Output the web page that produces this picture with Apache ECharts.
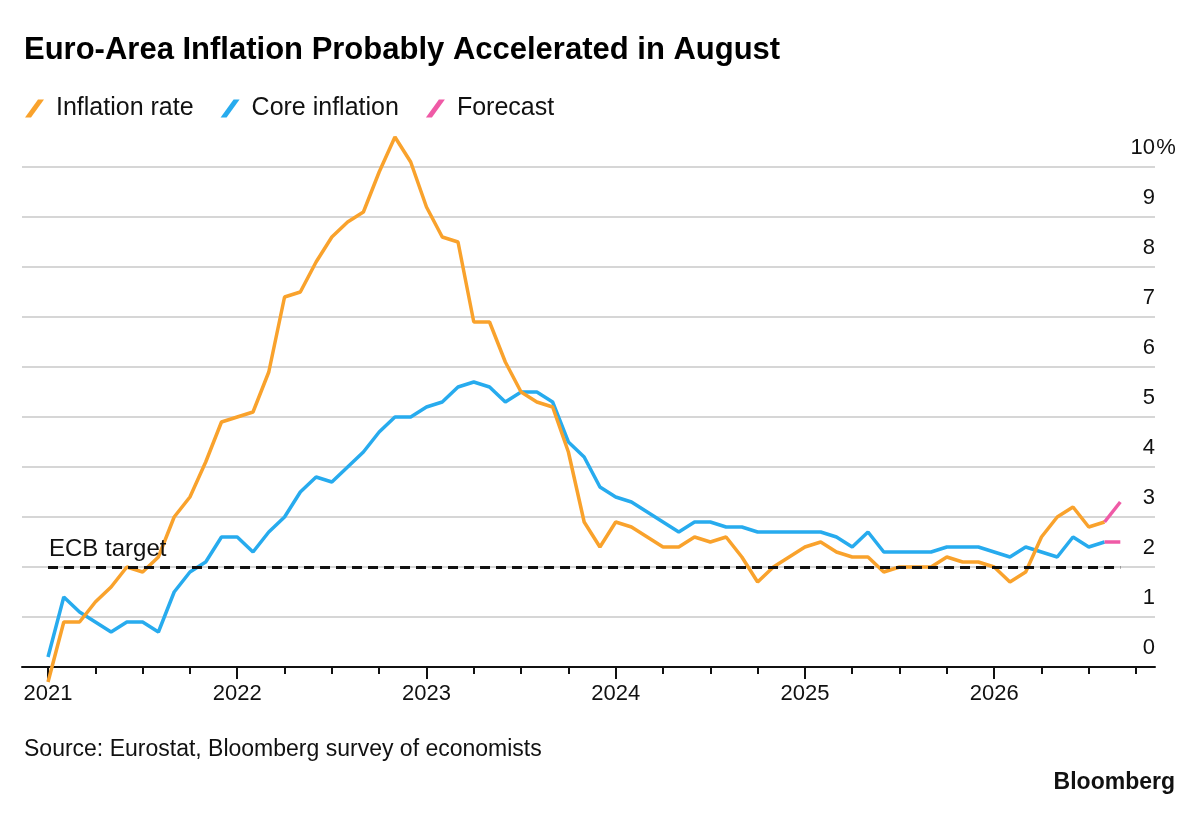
<!DOCTYPE html>
<html>
<head>
<meta charset="utf-8" />
<title>Euro-Area Inflation</title>
<script src="https://cdn.jsdelivr.net/npm/echarts@6/dist/echarts.min.js"></script>
<style>
  html, body { margin: 0; padding: 0; background: #fff; }
  #main { width: 1200px; height: 818px; }
</style>
</head>
<body>
<div id="main"></div>
<script type="text/javascript">
// monthly readings, index 0 = the "2021" tick
var inflation = [
  -0.3, 0.9, 0.9, 1.3, 1.6, 2.0, 1.9, 2.2, 3.0, 3.4, 4.1, 4.9,
  5.0, 5.1, 5.9, 7.4, 7.5, 8.1, 8.6, 8.9, 9.1, 9.9, 10.6, 10.1,
  9.2, 8.6, 8.5, 6.9, 6.9, 6.1, 5.5, 5.3, 5.2, 4.3, 2.9, 2.4,
  2.9, 2.8, 2.6, 2.4, 2.4, 2.6, 2.5, 2.6, 2.2, 1.7, 2.0, 2.2,
  2.4, 2.5, 2.3, 2.2, 2.2, 1.9, 2.0, 2.0, 2.0, 2.2, 2.1, 2.1,
  2.0, 1.7, 1.9, 2.6, 3.0, 3.2, 2.8, 2.9
];
var core = [
  0.2, 1.4, 1.1, 0.9, 0.7, 0.9, 0.9, 0.7, 1.5, 1.9, 2.1, 2.6,
  2.6, 2.3, 2.7, 3.0, 3.5, 3.8, 3.7, 4.0, 4.3, 4.7, 5.0, 5.0,
  5.2, 5.3, 5.6, 5.7, 5.6, 5.3, 5.5, 5.5, 5.3, 4.5, 4.2, 3.6,
  3.4, 3.3, 3.1, 2.9, 2.7, 2.9, 2.9, 2.8, 2.8, 2.7, 2.7, 2.7,
  2.7, 2.7, 2.6, 2.4, 2.7, 2.3, 2.3, 2.3, 2.3, 2.4, 2.4, 2.4,
  2.3, 2.2, 2.4, 2.3, 2.2, 2.6, 2.4, 2.5
];
// forecast: last actual month -> next month
var forecastMonths = [67, 68];
var inflationForecast = [2.9, 3.3];
var coreForecast = [2.5, 2.5];
var ecbTarget = 2;
var yearLabels = ['2021', '2022', '2023', '2024', '2025', '2026'];

var ORANGE = '#F9A22C', BLUE = '#27ABEE', PINK = '#EF5AA6';
var FONT = '"Liberation Sans", Arial, sans-serif';

function pairs(xs, ys) {
  return ys.map(function (v, i) { return [xs ? xs[i] : i, v]; });
}

var quarterTicks = [], yearTicks = [];
for (var m = 0; m <= 69; m += 3) quarterTicks.push(m);
for (var k = 0; k < yearLabels.length; k++) yearTicks.push(k * 12);

var slash = 'path://M0,18 L13,0 L19,0 L6,18 Z';

var dom = document.getElementById('main');
var myChart = echarts.init(dom);

var option = {
  backgroundColor: '#fff',
  animation: false,
  textStyle: { fontFamily: FONT },
  title: [
    {
      text: 'Euro-Area Inflation Probably Accelerated in August',
      left: 19, top: 30,
      textStyle: { fontSize: 31, fontWeight: 'bold', color: '#000', fontFamily: FONT }
    },
    {
      text: 'Source: Eurostat, Bloomberg survey of economists',
      left: 19, top: 733,
      textStyle: { fontSize: 23, fontWeight: 'normal', color: '#111', fontFamily: FONT }
    },
    {
      text: 'Bloomberg',
      right: 20, top: 766,
      textStyle: { fontSize: 23, fontWeight: 'bold', color: '#111', fontFamily: FONT }
    }
  ],
  legend: {
    left: 20, top: 91,
    itemWidth: 19, itemHeight: 18,
    itemGap: 27,
    icon: slash,
    data: [
      { name: 'Inflation rate', itemStyle: { color: ORANGE } },
      { name: 'Core inflation', itemStyle: { color: BLUE } },
      { name: 'Forecast', itemStyle: { color: PINK } }
    ],
    textStyle: { fontSize: 25, color: '#111', fontFamily: FONT, padding: [0, 0, 0, 7] }
  },
  grid: { left: 22, right: 45, top: 167, bottom: 151, containLabel: false },
  xAxis: [
    {
      type: 'value', min: -1.65, max: 70.2,
      axisLine: { show: true, lineStyle: { color: '#111', width: 2 } },
      axisTick: { show: true, customValues: quarterTicks, length: 7, lineStyle: { color: '#111', width: 2 } },
      axisLabel: { show: false },
      splitLine: { show: false }
    },
    {
      type: 'value', min: -1.65, max: 70.2, position: 'bottom',
      axisLine: { show: false },
      axisTick: { show: true, customValues: yearTicks, length: 12, lineStyle: { color: '#111', width: 2 } },
      axisLabel: {
        show: true, customValues: yearTicks, margin: 16,
        fontSize: 22, color: '#111', fontFamily: FONT,
        formatter: function (v) { return yearLabels[Math.round(v / 12)]; }
      },
      splitLine: { show: false }
    }
  ],
  yAxis: {
    type: 'value', min: 0, max: 10, interval: 1, position: 'right',
    axisLine: { show: false },
    axisTick: { show: false },
    splitLine: { show: true, lineStyle: { color: '#c8c8c8', width: 1.5 } },
    axisLabel: {
      inside: true, margin: -22, align: 'right', verticalAlign: 'bottom',
      padding: [0, 0, 8, 0],
      fontSize: 22, color: '#111', fontFamily: FONT,
      formatter: function (v) { return v === 10 ? '{n|10}{p|%}' : '{n|' + v + '}{p| }'; },
      rich: {
        n: { fontSize: 22, color: '#111', fontFamily: FONT },
        p: { fontSize: 22, color: '#111', width: 22, align: 'left', fontFamily: FONT }
      }
    }
  },
  series: [
    {
      name: 'Core inflation', type: 'line', xAxisIndex: 0,
      data: pairs(null, core), showSymbol: false, clip: false,
      lineStyle: { color: BLUE, width: 3.5 }, itemStyle: { color: BLUE }
    },
    {
      name: 'Inflation rate', type: 'line', xAxisIndex: 0,
      data: pairs(null, inflation), showSymbol: false, clip: false,
      lineStyle: { color: ORANGE, width: 3.5 }, itemStyle: { color: ORANGE },
      markLine: {
        silent: true, symbol: 'none',
        lineStyle: { color: '#111', width: 3, type: [10, 6] },
        label: {
          show: true, position: 'insideStartTop', formatter: 'ECB target',
          fontSize: 24, color: '#111', fontFamily: FONT, distance: [1, 6]
        },
        data: [[{ coord: [0, ecbTarget] }, { coord: [forecastMonths[1], ecbTarget] }]]
      }
    },
    {
      name: 'Forecast', type: 'line', xAxisIndex: 0,
      data: pairs(forecastMonths, coreForecast), showSymbol: false, clip: false,
      lineStyle: { color: PINK, width: 3.5 }, itemStyle: { color: PINK }
    },
    {
      name: 'Forecast', type: 'line', xAxisIndex: 0,
      data: pairs(forecastMonths, inflationForecast), showSymbol: false, clip: false,
      lineStyle: { color: PINK, width: 3.5 }, itemStyle: { color: PINK }
    }
  ]
};
myChart.setOption(option);
</script>
</body>
</html>
